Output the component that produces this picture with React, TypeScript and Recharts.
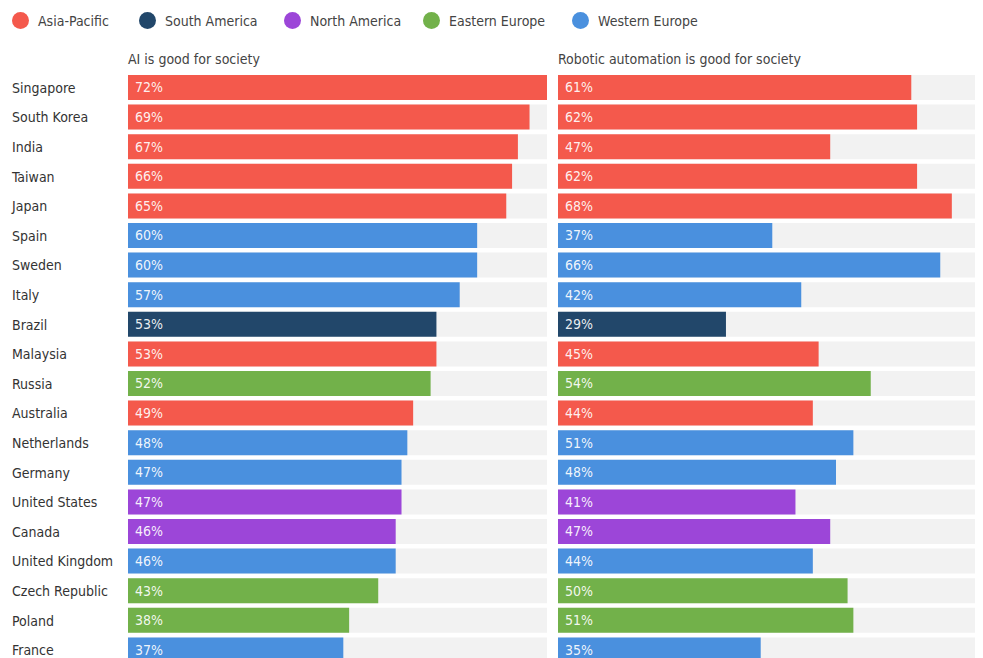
import React from 'react'
import { BarChart, Bar, XAxis, YAxis, Cell, LabelList } from 'recharts'

const countries = [
  'Singapore', 'South Korea', 'India', 'Taiwan', 'Japan', 'Spain', 'Sweden', 'Italy', 'Brazil', 'Malaysia',
  'Russia', 'Australia', 'Netherlands', 'Germany', 'United States', 'Canada', 'United Kingdom', 'Czech Republic', 'Poland', 'France',
]
const regionOf = [
  'Asia-Pacific', 'Asia-Pacific', 'Asia-Pacific', 'Asia-Pacific', 'Asia-Pacific', 'Western Europe', 'Western Europe', 'Western Europe', 'South America', 'Asia-Pacific',
  'Eastern Europe', 'Asia-Pacific', 'Western Europe', 'Western Europe', 'North America', 'North America', 'Western Europe', 'Eastern Europe', 'Eastern Europe', 'Western Europe',
]
const aiGood = [72, 69, 67, 66, 65, 60, 60, 57, 53, 53, 52, 49, 48, 47, 47, 46, 46, 43, 38, 37]
const robotGood = [61, 62, 47, 62, 68, 37, 66, 42, 29, 45, 54, 44, 51, 48, 41, 47, 44, 50, 51, 35]

const regions = ['Asia-Pacific', 'South America', 'North America', 'Eastern Europe', 'Western Europe']
const regionColors: Record<string, string> = {
  'Asia-Pacific': '#f4594c',
  'South America': '#22476a',
  'North America': '#9c46d8',
  'Eastern Europe': '#72b14a',
  'Western Europe': '#4a90de',
}

const data = countries.map((c, i) => ({ country: c, region: regionOf[i], ai: aiGood[i], robot: robotGood[i] }))

const FONT = "'Liberation Sans Narrow', 'DejaVu Sans Condensed', 'Roboto', sans-serif"
const ROW_TOP = 73
const CHART_H = 592

const CountryTick = (props: any) => {
  const { y, payload } = props
  return (
    <text x={12} y={y} dy={5} textAnchor="start" fontSize={14} fill="#333" fontFamily={FONT}>
      {payload.value}
    </text>
  )
}

function Panel({ dataKey, showAxis, width, marginRight }: { dataKey: string; showAxis: boolean; width: number; marginRight: number }) {
  return (
    <BarChart
      width={width}
      height={CHART_H}
      data={data}
      layout="vertical"
      margin={{ top: 0, right: marginRight, bottom: 0, left: 0 }}
    >
      <XAxis type="number" domain={[0, 72]} hide />
      <YAxis
        type="category"
        dataKey="country"
        hide={!showAxis}
        width={128}
        axisLine={false}
        tickLine={false}
        tick={<CountryTick />}
        interval={0}
      />
      <Bar dataKey={dataKey} barSize={25} background={{ fill: '#f2f2f2' }} isAnimationActive={false}>
        {data.map((d) => (
          <Cell key={d.country} fill={regionColors[d.region]} />
        ))}
        <LabelList
          dataKey={dataKey}
          position="insideLeft"
          offset={7}
          formatter={(v: any) => `${v}%`}
          style={{ fill: 'rgba(255,255,255,0.92)', fontSize: 14, fontFamily: FONT }}
        />
      </Bar>
    </BarChart>
  )
}

export default function App() {
  return (
    <div
      style={{
        position: 'absolute',
        left: 0,
        top: 0,
        width: 983,
        height: 658,
        overflow: 'hidden',
        background: '#fff',
        fontFamily: FONT,
      }}
    >
      {regions.map((r, i) => {
        const lefts = [12, 139, 284, 423, 572]
        return (
          <div key={r} style={{ position: 'absolute', left: lefts[i], top: 12, display: 'flex', alignItems: 'center', fontSize: 14, color: '#444' }}>
            <span style={{ width: 17, height: 17, borderRadius: '50%', background: regionColors[r], display: 'inline-block', marginRight: 9 }} />
            {r}
          </div>
        )
      })}
      <div style={{ position: 'absolute', left: 128, top: 51, fontSize: 14, color: '#444' }}>AI is good for society</div>
      <div style={{ position: 'absolute', left: 558, top: 51, fontSize: 14, color: '#444' }}>Robotic automation is good for society</div>
      <div style={{ position: 'absolute', left: 0, top: ROW_TOP }}>
        <Panel dataKey="ai" showAxis width={560} marginRight={13} />
      </div>
      <div style={{ position: 'absolute', left: 558, top: ROW_TOP }}>
        <Panel dataKey="robot" showAxis={false} width={417} marginRight={0} />
      </div>
    </div>
  )
}
